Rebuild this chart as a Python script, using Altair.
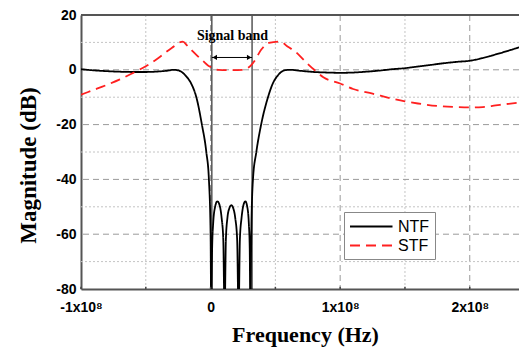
import altair as alt
import pandas as pd

# ---- data (frequency in units of 1e8 Hz, magnitude in dB) ----
ntf_f = [-1.0, -0.9, -0.8, -0.7, -0.6, -0.5, -0.4, -0.33, -0.29, -0.25, -0.195, -0.15, -0.11,
         -0.067, -0.033, -0.013, 0.0, 0.005, 0.012, 0.02, 0.035, 0.052, 0.07, 0.085, 0.098,
         0.108, 0.118, 0.13, 0.145, 0.16, 0.175, 0.19, 0.205, 0.216, 0.226, 0.239, 0.253,
         0.268, 0.283, 0.295, 0.302, 0.307, 0.314, 0.327, 0.353, 0.39, 0.443, 0.48, 0.52,
         0.57, 0.61, 0.7, 0.8, 0.9, 1.0, 1.1, 1.2, 1.3, 1.4, 1.5, 1.6, 1.7, 1.8, 1.9, 2.0,
         2.1, 2.2, 2.3, 2.38]
ntf_db = [0.2, -0.2, -0.5, -0.7, -0.8, -0.8, -0.6, -0.3, 0.0, -0.2, -2.0, -5.0, -10.0,
          -20.0, -30.0, -40.0, -60.0, -90.0, -65.0, -56.0, -50.0, -48.0, -49.5, -54.0, -62.0,
          -90.0, -62.0, -54.0, -50.5, -49.4, -50.5, -54.0, -62.0, -90.0, -62.0, -54.0, -49.5,
          -48.0, -50.0, -56.0, -65.0, -90.0, -60.0, -40.0, -30.0, -20.0, -10.0, -5.0, -2.0,
          -0.2, 0.0, -0.4, -0.8, -1.0, -1.1, -1.0, -0.7, -0.3, 0.2, 0.6, 1.2, 1.8, 2.4, 2.9, 3.3,
          4.3, 5.6, 7.0, 8.2]

stf_f = [-1.0, -0.9, -0.8, -0.7, -0.6, -0.55, -0.5, -0.4, -0.3, -0.214, -0.18, -0.137, -0.1,
         -0.06, -0.02, 0.005, 0.03, 0.06, 0.155, 0.25, 0.28, 0.31, 0.34, 0.39, 0.45, 0.533,
         0.6, 0.65, 0.74, 0.8, 0.87, 1.0, 1.1, 1.25, 1.4, 1.5, 1.6, 1.75, 1.9, 2.0, 2.1,
         2.2, 2.3, 2.38]
stf_db = [-9.1, -7.3, -5.5, -3.5, -1.2, 0.0, 1.3, 4.4, 8.0, 10.3, 8.8, 6.7, 5.0,
          3.3, 1.6, 0.9, 0.3, 0.0, -0.1, 0.0, 0.5, 1.5, 3.3, 7.3, 9.8, 10.3,
          8.3, 6.8, 2.6, 0.0, -2.7, -5.0, -7.0, -8.7, -10.5, -11.5, -12.3, -13.2, -13.6, -13.7, -13.6,
          -13.0, -12.4, -12.0]

series_names = ["NTF", "STF"]
band_edges = [0.01, 0.32]
x_ticks = [-1, 0, 1, 2]
x_minor = [-0.5, 0.5, 1.5]
y_ticks = [20, 0, -20, -40, -60, -80]
y_major = [0, -20, -40, -60]
y_minor = [10, -10, -30, -50, -70]
X_MIN, X_MAX = -1.0, 2.38
Y_MIN, Y_MAX = -80, 20
S = 1e8

curves = pd.DataFrame({
    "f": [v * S for v in ntf_f + stf_f],
    "db": ntf_db + stf_db,
    "series": [series_names[0]] * len(ntf_f) + [series_names[1]] * len(stf_f),
    "order": list(range(len(ntf_f))) + list(range(len(stf_f))),
})

xs = alt.Scale(domain=[X_MIN * S, X_MAX * S], nice=False, zero=False)
ys = alt.Scale(domain=[Y_MIN, Y_MAX], nice=False, zero=False)

SANS = "Liberation Sans"
SERIF = "Liberation Serif"

XA = alt.Axis(
    values=[v * S for v in x_ticks],
    labelExpr="datum.value == 0 ? '0' : (datum.value < 0 ? '-' : '') + abs(round(datum.value/1e8)) + 'x10\u2078'",
    grid=False, ticks=False, domainColor="#555", domainWidth=2,
    labelFont=SANS, labelFontWeight="bold", labelFontSize=14, labelColor="black", labelPadding=11,
    labelFlush=False,
    title="Frequency (Hz)", titleFont=SERIF, titleFontWeight="bold", titleFontSize=22,
    titleColor="black", titleX=224, titleY=45, titleBaseline="middle", titleAlign="center",
)
YA = alt.Axis(
    values=y_ticks,
    labelExpr="datum.value < 0 ? '-' + abs(datum.value) : '' + datum.value",
    grid=False, ticks=False, domainColor="#555", domainWidth=2,
    labelFont=SANS, labelFontWeight="bold", labelFontSize=14, labelColor="black", labelPadding=5,
    labelFlush=False,
    title="Magnitude (dB)", titleFont=SERIF, titleFontWeight="bold", titleFontSize=23,
    titleColor="black", titleX=-53, titleY=150, titleAngle=270, titleBaseline="middle",
    titleAlign="center",
)


def X(field):
    return alt.X(field, scale=xs, axis=XA)


def Y(field):
    return alt.Y(field, scale=ys, axis=YA)


# grid lines
xmaj = alt.Chart(pd.DataFrame({"f": [v * S for v in x_ticks if v > X_MIN]})).mark_rule(
    color="#9a9a9a", strokeDash=[6, 4], strokeWidth=1
).encode(x=X("f:Q"))
xmin = alt.Chart(pd.DataFrame({"f": [v * S for v in x_minor]})).mark_rule(
    color="#c4c4c4", strokeDash=[2, 2], strokeWidth=1
).encode(x=X("f:Q"))
ymaj = alt.Chart(pd.DataFrame({"db": y_major})).mark_rule(
    color="#9a9a9a", strokeDash=[6, 4], strokeWidth=1
).encode(y=Y("db:Q"))
ymin = alt.Chart(pd.DataFrame({"db": y_minor})).mark_rule(
    color="#c4c4c4", strokeDash=[2, 2], strokeWidth=1
).encode(y=Y("db:Q"))

# small inward ticks on the bottom axis
tick_df = pd.DataFrame({"f": [v * S for v in x_ticks + x_minor], "y0": [Y_MIN] * 7, "y1": [Y_MIN + 0.8] * 7})
inticks = alt.Chart(tick_df).mark_rule(color="#444", strokeWidth=1.5).encode(
    x=X("f:Q"), y=Y("y0:Q"), y2="y1:Q"
)

# top frame line
top = alt.Chart(pd.DataFrame({"a": [X_MIN * S], "b": [X_MAX * S], "y": [Y_MAX]})).mark_rule(
    color="#555", strokeWidth=2
).encode(x=X("a:Q"), x2="b:Q", y=Y("y:Q"))

# signal band lines
band = alt.Chart(pd.DataFrame({"f": [v * S for v in band_edges]})).mark_rule(
    color="black", strokeWidth=1
).encode(x=X("f:Q"))

arrow_y = 4.5
arrow = alt.Chart(pd.DataFrame({"a": [band_edges[0] * S], "b": [band_edges[1] * S], "y": [arrow_y]})).mark_rule(
    color="black", strokeWidth=1
).encode(x=X("a:Q"), x2="b:Q", y=Y("y:Q"))
heads = alt.Chart(pd.DataFrame({
    "f": [(band_edges[0] + 0.022) * S, (band_edges[1] - 0.022) * S],
    "y": [arrow_y, arrow_y],
    "shape": ["triangle-left", "triangle-right"],
})).mark_point(filled=True, color="black", size=28, opacity=1).encode(
    x=X("f:Q"), y=Y("y:Q"),
    shape=alt.Shape("shape:N", scale=None),
)
band_text = alt.Chart(pd.DataFrame({"f": [0.169 * S], "y": [12.2], "t": ["Signal band"]})).mark_text(
    font=SERIF, fontWeight="bold", fontSize=14, color="black", baseline="middle", align="center"
).encode(x=X("f:Q"), y=Y("y:Q"), text="t:N")

legend = alt.Legend(
    title=None, orient="none", legendX=263, legendY=197, strokeColor="#888", fillColor="white",
    padding=5, symbolType="M-1,0H4", symbolSize=289, symbolStrokeWidth=2,
    labelFont=SANS, labelFontSize=16, labelOffset=30, rowPadding=1, labelColor="black",
)

lines = alt.Chart(curves).mark_line(clip=True, strokeWidth=1.8, interpolate="monotone").encode(
    x=X("f:Q"),
    y=Y("db:Q"),
    color=alt.Color("series:N", scale=alt.Scale(domain=series_names, range=["black", "#ff2020"]), legend=legend),
    strokeDash=alt.StrokeDash("series:N", scale=alt.Scale(domain=series_names, range=[[1, 0], [10, 6]]), legend=legend),
    order="order:Q",
)

chart = alt.layer(
    xmin, ymin, xmaj, ymaj, band, lines, top, inticks, arrow, heads, band_text
).properties(
    width=438, height=274,
    autosize=alt.AutoSizeParams(type="none"),
    padding={"left": 73, "top": 7, "right": 0, "bottom": 60},
).configure_view(stroke=None).configure(background="white")

chart.save("out.html", embed_options={"renderer": "svg", "actions": False})
